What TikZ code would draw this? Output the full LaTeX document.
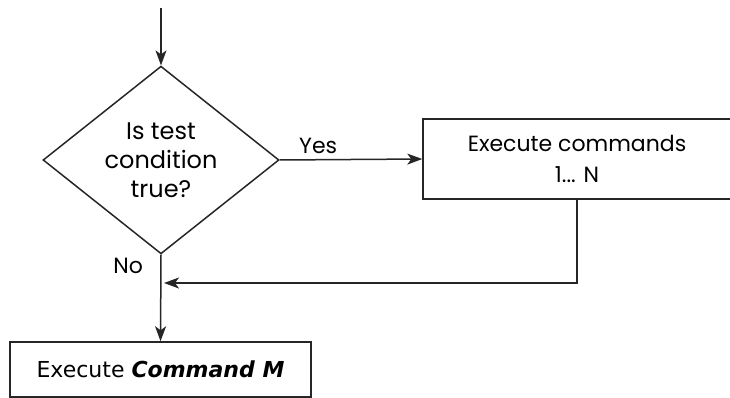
\documentclass[tikz,border=0pt]{standalone}
\usepackage{fontspec}
\setmainfont{Poppins}
\newfontfamily\tahfont{DejaVu Sans}
\usepackage{tikz}
\usetikzlibrary{arrows.meta,shapes.geometric}

\begin{document}
\begin{tikzpicture}[x=1pt, y=-1pt,
  line width=1.5pt, draw=black!85,
  flow/.style={-{Stealth[length=15pt,width=11pt,inset=4pt]}},
  decision/.style={draw, diamond, minimum width=236pt, minimum height=175pt,
    inner sep=0pt, align=center, font=\fontsize{24}{29}\selectfont},
  cmdbox/.style={draw, rectangle, inner sep=0pt, align=center}]

\useasboundingbox (0,0) rectangle (730,398);

% nodes
\coordinate (start) at (161,8);
\node[decision] (test) at (161,160) {Is test\\condition\\true?};
\node[cmdbox, minimum width=308pt, minimum height=80pt,
  font=\fontsize{22}{31}\selectfont] (cmds) at (577,159) {Execute commands\\1... N};
\node[cmdbox, minimum width=301pt, minimum height=55pt,
  font=\tahfont\fontsize{22}{24}\selectfont] (cmdm) at (160.5,369.5)
  {Execute {\bfseries\itshape Command M}};
\coordinate (join) at (161,283);

% connectors
\draw[flow] (start) -- (test.north);
\draw[flow] (test.east) -- node[above, pos=0.27, yshift=2pt, font=\fontsize{22}{24}\selectfont]{Yes} (cmds.west);
\draw[flow] (test.south) -- node[left, pos=0.13, xshift=-14pt, font=\fontsize{22}{24}\selectfont]{No} (cmdm.north);
\draw[flow, shorten >=3pt] (cmds.south) -- (cmds.south |- join) -- (join);

\end{tikzpicture}
\end{document}
